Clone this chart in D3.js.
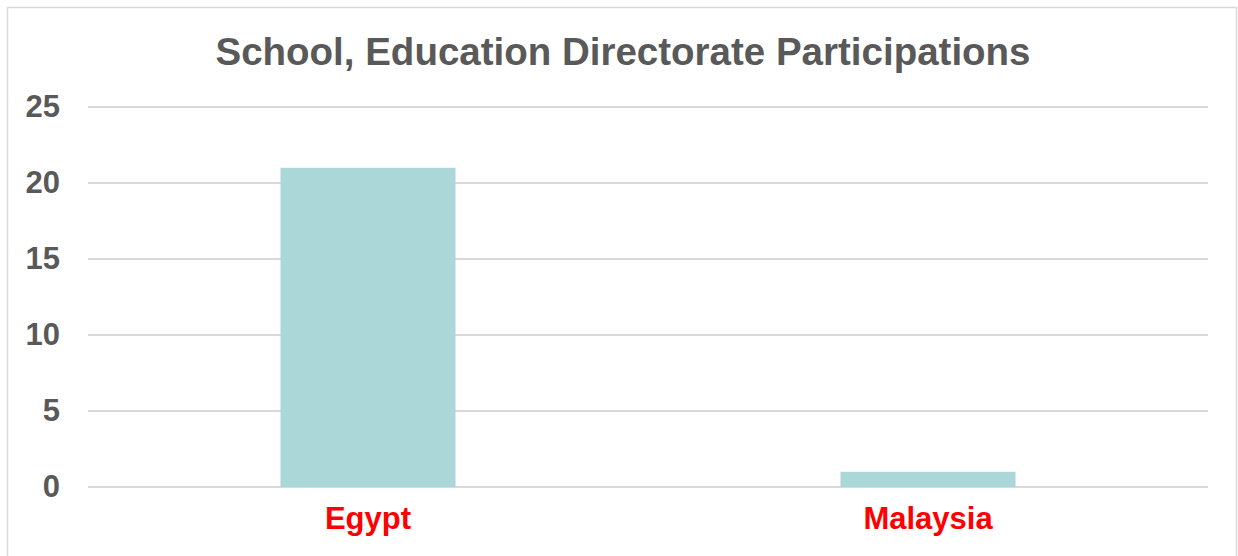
<!DOCTYPE html>
<html>
<head>
<meta charset="utf-8">
<script src="https://cdn.jsdelivr.net/npm/d3@7"></script>
<style>
  body { margin: 0; background: #fff; }
  svg { display: block; font-family: "Liberation Sans", Arial, sans-serif; }
</style>
</head>
<body>
<svg width="1238" height="556"></svg>
<script>
let categories = ["Egypt", "Malaysia"];
let values = [21, 1];
let yTicks = [0, 5, 10, 15, 20, 25];
let title = "School, Education Directorate Participations";

let svg = d3.select("svg"),
	width = +svg.attr("width"),
	height = +svg.attr("height");

// chart border
svg.append("rect")
	.attr("x", 7.5).attr("y", 7.5)
	.attr("width", 1229).attr("height", 560)
	.attr("fill", "none")
	.attr("stroke", "#d9d9d9")
	.attr("stroke-width", 1.5);

let x = d3.scaleBand()
	.domain(categories)
	.range([88, 1208])
	.paddingInner(0.6875)
	.paddingOuter(0.34375);

let y = d3.scaleLinear()
	.domain([0, 25])
	.range([487, 107]);

// gridlines
svg.append("g")
	.selectAll("line")
	.data(yTicks)
	.enter().append("line")
	.attr("x1", 88).attr("x2", 1208)
	.attr("y1", d => y(d)).attr("y2", d => y(d))
	.attr("stroke", "#d9d9d9")
	.attr("stroke-width", 2);

// y axis labels
let yAxis = svg.append("g")
	.attr("transform", "translate(60,0)")
	.call(d3.axisLeft(y).tickValues(yTicks).tickSize(0).tickPadding(0));
yAxis.select(".domain").remove();
yAxis.selectAll("text")
	.attr("fill", "#595959")
	.style("font-size", "31px")
	.style("font-weight", "bold")
	.style("font-family", "'Liberation Sans', Arial, sans-serif");

// bars
svg.append("g")
	.selectAll("rect")
	.data(values)
	.enter().append("rect")
	.attr("x", (d, i) => x(categories[i]))
	.attr("y", d => y(d))
	.attr("width", x.bandwidth())
	.attr("height", d => y(0) - y(d))
	.attr("fill", "#abd7d8");

// category labels
let xAxis = svg.append("g")
	.attr("transform", "translate(0,507)")
	.call(d3.axisBottom(x).tickSize(0).tickPadding(0));
xAxis.select(".domain").remove();
xAxis.selectAll("text")
	.attr("fill", "#ff0000")
	.style("font-size", "31px")
	.style("font-weight", "bold")
	.style("font-family", "'Liberation Sans', Arial, sans-serif");

// title
svg.append("text")
	.attr("x", 623)
	.attr("y", 65)
	.attr("text-anchor", "middle")
	.attr("fill", "#595959")
	.style("font-size", "38.5px")
	.style("font-weight", "bold")
	.text(title);
</script>
</body>
</html>
